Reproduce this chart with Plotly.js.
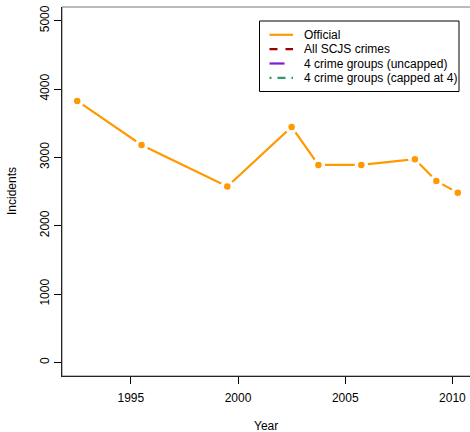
<!DOCTYPE html>
<html>
<head>
<meta charset="utf-8">
<script src="https://cdn.plot.ly/plotly-3.0.1.min.js"></script>
<style>
  html, body { margin: 0; padding: 0; background: #fff; overflow: hidden; }
  #chart { width: 474px; height: 432px; }
</style>
</head>
<body>
<div id="chart"></div>
<script>
// Survey years (mid-point of each financial year)
const years = [1992.5, 1995.5, 1999.5, 2002.5, 2003.75, 2005.75, 2008.25, 2009.25, 2010.25];

// Incident counts per series; only the official series has values
const official = [3825, 3181, 2573, 3444, 2889, 2889, 2972, 2655, 2480];
const allScjs = [null, null, null, null, null, null, null, null, null];
const groupsUncapped = [null, null, null, null, null, null, null, null, null];
const groupsCapped = [null, null, null, null, null, null, null, null, null];

const seriesNames = ['Official', 'All SCJS crimes', '4 crime groups (uncapped)', '4 crime groups (capped at 4)'];
const seriesValues = [official, allScjs, groupsUncapped, groupsCapped];

const xTicks = [1995, 2000, 2005, 2010];
const yTicks = [0, 1000, 2000, 3000, 4000, 5000];

// Styling
const colors = ['#FF9900', '#9E0000', '#7A1ED6', '#2E9A66'];
const dashes = ['solid', '8px,8px', '15px,20px', '2px,6px,8px,6px'];
const FONT = 'Liberation Sans, Arial, Helvetica, sans-serif';

// Page geometry (pixels) used to place the legend box and axis titles
const W = 474, H = 432, ML = 62, MR = 1, MT = 7, MB = 56;
const PW = W - ML - MR, PH = H - MT - MB;
const px = x => (x - ML) / PW;
const py = y => 1 - (y - MT) / PH;

const traces = [];
seriesValues.forEach((vals, i) => {
  // connecting line
  traces.push({
    x: years, y: vals, type: 'scatter', mode: 'lines',
    name: seriesNames[i], showlegend: false, hoverinfo: 'skip',
    line: { color: colors[i], width: 2.2, dash: dashes[i] },
    connectgaps: false
  });
  // points with a white halo so the line breaks around each point
  traces.push({
    x: years, y: vals, type: 'scatter', mode: 'markers',
    name: seriesNames[i], showlegend: false, hoverinfo: 'skip',
    marker: { color: colors[i], size: 10, line: { color: '#ffffff', width: 3.5 } }
  });
});

// Legend drawn as a framed box with line samples
const shapes = [
  { type: 'rect', xref: 'paper', yref: 'paper', x0: 0, x1: 1, y0: 0, y1: 1,
    line: { color: '#777', width: 1 }, layer: 'below' },
  { type: 'rect', xref: 'paper', yref: 'paper',
    x0: px(259.5), x1: px(459), y0: py(91.5), y1: py(21),
    line: { color: '#000', width: 1 }, fillcolor: '#fff' }
];
const annotations = [];
const rowY = [34.8, 49.2, 63.5, 77.8];
seriesNames.forEach((name, i) => {
  shapes.push({ type: 'line', xref: 'paper', yref: 'paper',
    x0: px(269.5), x1: px(293), y0: py(rowY[i]), y1: py(rowY[i]),
    line: { color: colors[i], width: 2.2, dash: dashes[i] } });
  annotations.push({ xref: 'paper', yref: 'paper', x: px(301.5), y: py(rowY[i]),
    xanchor: 'left', yanchor: 'middle', showarrow: false, text: name,
    font: { family: FONT, size: 12, color: '#000' } });
});

// Axis titles
annotations.push({ xref: 'paper', yref: 'paper', x: px(ML + PW / 2 - 1.5), y: py(426),
  xanchor: 'center', yanchor: 'middle', showarrow: false, text: 'Year',
  font: { family: FONT, size: 12, color: '#000' } });
annotations.push({ xref: 'paper', yref: 'paper', x: px(12), y: py(191),
  xanchor: 'center', yanchor: 'middle', showarrow: false, text: 'Incidents', textangle: -90,
  font: { family: FONT, size: 12, color: '#000' } });

const layout = {
  width: W, height: H,
  margin: { l: ML, r: MR, t: MT, b: MB, pad: 0 },
  paper_bgcolor: '#fff', plot_bgcolor: '#fff',
  font: { family: FONT, size: 12, color: '#000' },
  showlegend: false,
  xaxis: {
    range: [1991.79, 2010.96], tickvals: xTicks, ticktext: xTicks.map(String),
    ticks: 'outside', ticklen: 7, tickwidth: 1, tickcolor: '#000', ticklabelstandoff: 4,
    showgrid: false, zeroline: false, showline: true, linecolor: '#222', linewidth: 1,
    tickfont: { family: FONT, size: 12, color: '#000' }
  },
  yaxis: {
    range: [-200, 5200], tickvals: yTicks, ticktext: yTicks.map(String),
    ticks: 'outside', ticklen: 7, tickwidth: 1, tickcolor: '#000', tickangle: -90,
    ticklabelstandoff: 1.5,
    showgrid: false, zeroline: false, showline: true, linecolor: '#222', linewidth: 1,
    tickfont: { family: FONT, size: 12, color: '#000' }
  },
  shapes: shapes,
  annotations: annotations
};

Plotly.newPlot('chart', traces, layout, { staticPlot: true, displayModeBar: false });
</script>
</body>
</html>
